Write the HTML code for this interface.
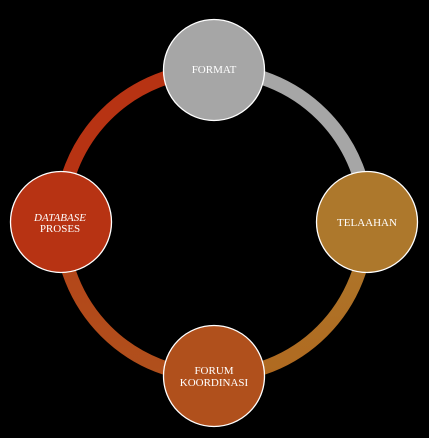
<!DOCTYPE html>
<html><head><style>
html,body{margin:0;padding:0;background:#000;width:429px;height:438px;overflow:hidden}
</style></head><body>
<svg width="429" height="438" viewBox="0 0 429 438" xmlns="http://www.w3.org/2000/svg">
<defs>
<linearGradient id="gr" x1="0" y1="0" x2="0" y2="1"><stop offset="0" stop-color="#a6a6a6"/><stop offset="1" stop-color="#ab8a55"/></linearGradient>
<linearGradient id="gb" x1="0" y1="0" x2="0" y2="1"><stop offset="0" stop-color="#ad782c"/><stop offset="1" stop-color="#b06a20"/></linearGradient>
<linearGradient id="gl" x1="0" y1="0" x2="0" y2="1"><stop offset="0" stop-color="#b54218"/><stop offset="1" stop-color="#b0501c"/></linearGradient>
</defs>
<g fill="none" stroke-width="14">
<path d="M214 70 A153 153 0 0 1 367 223" stroke="#a6a6a6"/>
<path d="M367 223 A153 153 0 0 1 214 376" stroke="url(#gb)"/>
<path d="M214 376 A153 153 0 0 1 61 223" stroke="url(#gl)"/>
<path d="M61 223 A153 153 0 0 1 214 70" stroke="#b73313"/>
</g>
<g stroke="#fff" stroke-width="1.3">
<circle cx="214" cy="70" r="50.5" fill="#a6a6a6"/>
<circle cx="367" cy="222" r="50.5" fill="#ad782c"/>
<circle cx="214" cy="376" r="50.5" fill="#b0501c"/>
<circle cx="61" cy="222" r="50.5" fill="#b73313"/>
</g>
<g fill="#fff" font-family="Liberation Serif, serif" font-size="11" text-anchor="middle">
<text x="214" y="73">FORMAT</text>
<text x="367" y="226">TELAAHAN</text>
<text x="214" y="374">FORUM</text>
<text x="214" y="386">KOORDINASI</text>
<text x="60" y="221" font-style="italic">DATABASE</text>
<text x="60" y="232">PROSES</text>
</g>
</svg>
</body></html>
